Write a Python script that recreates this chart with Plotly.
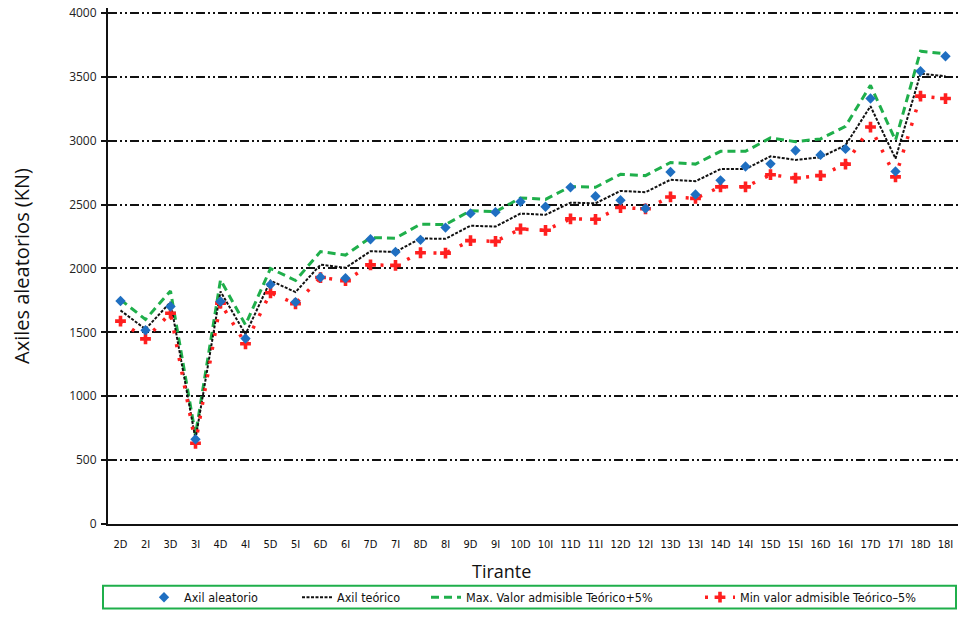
import plotly.graph_objects as go

categories = ["2D", "2I", "3D", "3I", "4D", "4I", "5D", "5I", "6D", "6I",
              "7D", "7I", "8D", "8I", "9D", "9I", "10D", "10I", "11D", "11I",
              "12D", "12I", "13D", "13I", "14D", "14I", "15D", "15I", "16D", "16I",
              "17D", "17I", "18D", "18I"]

axil_aleatorio = [1745, 1517, 1703, 663, 1742, 1452, 1874, 1737, 1931, 1924,
                  2229, 2130, 2224, 2320, 2431, 2441, 2522, 2483, 2635, 2565,
                  2534, 2470, 2755, 2579, 2690, 2798, 2819, 2923, 2889, 2936,
                  3330, 2760, 3544, 3661]

axil_teorico = [1672, 1525, 1737, 665, 1820, 1485, 1905, 1815, 2030, 2005,
                2135, 2130, 2235, 2232, 2335, 2328, 2430, 2420, 2515, 2510,
                2607, 2597, 2695, 2683, 2778, 2778, 2878, 2850, 2870, 2965,
                3270, 2860, 3525, 3505]

max_admisible = [1756, 1601, 1824, 698, 1911, 1559, 2000, 1906, 2132, 2105,
                 2242, 2237, 2347, 2344, 2452, 2444, 2552, 2541, 2641, 2636,
                 2737, 2727, 2830, 2817, 2917, 2917, 3022, 2993, 3014, 3113,
                 3434, 3003, 3701, 3680]

min_admisible = [1588, 1449, 1650, 632, 1729, 1411, 1810, 1724, 1929, 1905,
                 2028, 2024, 2123, 2120, 2218, 2212, 2309, 2299, 2389, 2385,
                 2477, 2467, 2560, 2549, 2639, 2639, 2734, 2708, 2727, 2817,
                 3107, 2717, 3349, 3330]

y_ticks = [0, 500, 1000, 1500, 2000, 2500, 3000, 3500, 4000]

names = ["Axil aleatorio", "Axil teórico",
         "Max. Valor admisible Teórico+5%", "Min valor admisible Teórico\u20135%"]

# page body has an 8px default margin on every side; size the figure so the page never overflows
OFF = 8
W, H = 966 - 2 * OFF, 621 - 2 * OFF
PL, PT, PB = 108, 8, 527           # plot area edges in window pixels
Y0_PX, Y4000_PX = 527, 13          # where 0 and 4000 sit
L, T = PL - OFF, PT - OFF
B = H - (PB - OFF)
R = 0
pw, ph = W - L - R, H - T - B
y_top = 4000 * (PB - PT) / (Y0_PX - Y4000_PX)


def px_x(p):
    return (p - OFF - L) / pw


def px_y(p):
    return (PB - p) / ph


NARROW = "DejaVu Sans Condensed, Liberation Sans Narrow, Open Sans, sans-serif"
SANS = "Open Sans, sans-serif"

fig = go.Figure()

fig.add_trace(go.Scatter(
    x=categories, y=max_admisible, mode="lines", name=names[2],
    line=dict(color="#1faf4b", width=3, dash="8px,5px"),
    legend="legend3"))

fig.add_trace(go.Scatter(
    x=categories, y=axil_teorico, mode="lines", name=names[1],
    line=dict(color="#111111", width=2, dash="3px,1.5px"),
    legend="legend2"))

fig.add_trace(go.Scatter(
    x=categories, y=min_admisible, mode="lines+markers", name=names[3],
    line=dict(color="#ff1f1f", width=3.5, dash="3px,11px"),
    marker=dict(symbol="cross", size=9, color="#ff1f1f"),
    legend="legend4"))

fig.add_trace(go.Scatter(
    x=categories, y=axil_aleatorio, mode="markers", name=names[0],
    marker=dict(symbol="diamond", size=8, color="#1f6fc1"),
    legend="legend"))

leg_common = dict(orientation="h", yanchor="middle", xanchor="left",
                  y=px_y(601), bgcolor="rgba(0,0,0,0)", borderwidth=0,
                  font=dict(family=NARROW, size=12.5, color="#111111"),
                  itemclick=False, itemdoubleclick=False)

fig.update_layout(
    width=W, height=H,
    margin=dict(l=L, r=R, t=T, b=B, pad=0),
    paper_bgcolor="white", plot_bgcolor="white",
    showlegend=True,
    legend=dict(x=px_x(144), **leg_common),
    legend2=dict(x=px_x(297), **leg_common),
    legend3=dict(x=px_x(426), **leg_common),
    legend4=dict(x=px_x(700), **leg_common),
    xaxis=dict(
        type="category", categoryorder="array", categoryarray=categories,
        range=[-0.5, len(categories) - 0.5],
        showline=True, linecolor="#111111", linewidth=2,
        showgrid=False, zeroline=False, ticks="",
        ticklabelstandoff=9, ticklabeloverflow="allow",
        tickfont=dict(family=NARROW, size=11, color="#111111"),
        automargin=False,
    ),
    yaxis=dict(
        range=[0, y_top], tickvals=y_ticks, ticktext=[str(v) for v in y_ticks],
        showline=True, linecolor="#111111", linewidth=2,
        ticks="outside", ticklen=5, tickwidth=1.5, tickcolor="#111111",
        showgrid=True, gridcolor="#111111", gridwidth=2,
        griddash="9px,3px,2px,3px,2px,3px",
        zeroline=False,
        ticklabelstandoff=2, ticklabeloverflow="allow",
        tickfont=dict(family=SANS, size=12, color="#222222"),
        title=dict(text="Axiles aleatorios (KN)", standoff=34,
                   font=dict(family=SANS, size=20, color="#111111")),
        automargin=False,
    ),
    annotations=[dict(text="Tirante", xref="paper", yref="paper",
                      x=px_x(501), y=px_y(574), xanchor="center", yanchor="middle",
                      showarrow=False,
                      font=dict(family=SANS, size=18, color="#111111"))],
    shapes=[dict(type="rect", xref="paper", yref="paper",
                 x0=px_x(103), x1=px_x(956), y0=px_y(589), y1=px_y(612),
                 line=dict(color="#1faf4b", width=2), fillcolor="rgba(0,0,0,0)",
                 layer="below")],
)

fig.write_html("out.html")
